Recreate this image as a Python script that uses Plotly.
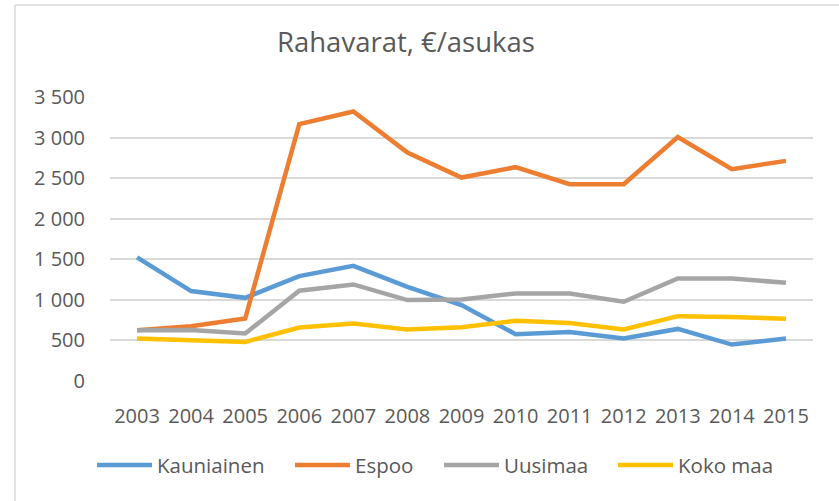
import plotly.graph_objects as go

years = ["2003", "2004", "2005", "2006", "2007", "2008", "2009", "2010", "2011", "2012", "2013", "2014", "2015"]
kauniainen = [1524, 1108, 1025, 1293, 1420, 1161, 935, 577, 605, 523, 642, 449, 523]
espoo = [626, 676, 770, 3166, 3322, 2816, 2507, 2635, 2425, 2425, 3006, 2611, 2713]
uusimaa = [626, 629, 585, 1112, 1190, 997, 1005, 1079, 1079, 976, 1264, 1264, 1210]
koko_maa = [523, 503, 482, 659, 709, 635, 663, 741, 716, 635, 799, 790, 766]

series_names = ["Kauniainen", "Espoo", "Uusimaa", "Koko maa"]
series_values = [kauniainen, espoo, uusimaa, koko_maa]
colors = ["#5B9BD5", "#ED7D31", "#A5A5A5", "#FFC000"]
y_ticks = [0, 500, 1000, 1500, 2000, 2500, 3000, 3500]
title_text = "Rahavarat, €/asukas"

W, H = 839, 501
L, R, T, B = 110, 26, 97, 120
pw, ph = W - L - R, H - T - B

def px(x):
    return (x - L) / pw

def py(y):
    return (H - B - y) / ph

FONT = "Open Sans"
TXT = "#595959"

fig = go.Figure()
for name, vals, col in zip(series_names, series_values, colors):
    fig.add_trace(go.Scatter(x=years, y=vals, name=name, mode="lines",
                             line=dict(color=col, width=4.5), showlegend=False))

shapes = [
    dict(type="line", xref="paper", yref="paper", x0=px(15), x1=px(850), y0=py(5), y1=py(5),
         line=dict(color="#D9D9D9", width=1.5)),
    dict(type="line", xref="paper", yref="paper", x0=px(15), x1=px(15), y0=py(5), y1=py(520),
         line=dict(color="#D9D9D9", width=1.5)),
]
annotations = [
    dict(text=title_text, xref="paper", yref="paper", x=px(406), y=py(42),
         xanchor="center", yanchor="middle", showarrow=False,
         font=dict(family=FONT, size=27.5, color=TXT)),
]
leg_x = [97, 295, 444, 618]
leg_y = 465
for name, col, lx in zip(series_names, colors, leg_x):
    shapes.append(dict(type="line", xref="paper", yref="paper", x0=px(lx), x1=px(lx + 55),
                       y0=py(leg_y), y1=py(leg_y), line=dict(color=col, width=4.5)))
    annotations.append(dict(text=name, xref="paper", yref="paper", x=px(lx + 58), y=py(leg_y),
                            xanchor="left", yanchor="middle", showarrow=False,
                            font=dict(family=FONT, size=20.5, color=TXT)))

fig.update_layout(
    width=W, height=H,
    margin=dict(l=L, r=R, t=T, b=B),
    paper_bgcolor="white", plot_bgcolor="white",
    separators=", ",
    showlegend=False,
    shapes=shapes, annotations=annotations,
    xaxis=dict(type="category", range=[-0.5, len(years) - 0.5], showgrid=False, zeroline=False,
               showline=False, ticks="outside", ticklen=17, tickcolor="rgba(0,0,0,0)",
               tickfont=dict(family=FONT, size=20, color=TXT)),
    yaxis=dict(range=[0, 3500], tickvals=y_ticks, tickformat=",d", showgrid=True,
               gridcolor="#D9D9D9", gridwidth=1.5, zeroline=False, showline=False,
               ticks="outside", ticklen=20, tickcolor="rgba(0,0,0,0)",
               tickfont=dict(family=FONT, size=20, color=TXT)),
)

fig.write_html("out.html", config={"displayModeBar": False},
               post_script="document.body.style.margin='0';")
